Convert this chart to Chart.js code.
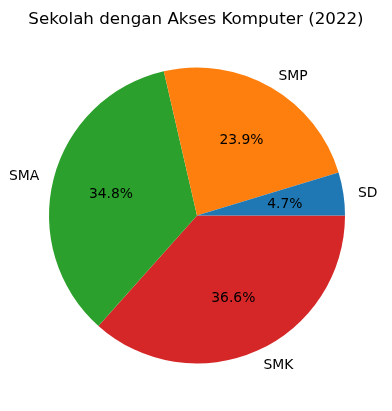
<!DOCTYPE html>
<html>
<head>
<meta charset="utf-8">
<script src="https://cdn.jsdelivr.net/npm/chart.js@4"></script>
<style>
  html, body { margin: 0; padding: 0; background: #fff; }
  #wrap { width: 392px; height: 411px; }
</style>
</head>
<body>
<div id="wrap"><canvas id="pieChart" width="392" height="411"></canvas></div>
<script>
// data
const labels = ['SD', 'SMP', 'SMA', 'SMK'];
const values = [4.7, 23.9, 34.8, 36.6];
const colors = ['#1f77b4', '#ff7f0e', '#2ca02c', '#d62728'];
const title = 'Sekolah dengan Akses Komputer (2022)';

// matplotlib goes counterclockwise from 3 o'clock, chart.js goes clockwise,
// so feed the slices in reverse and start at 90 deg
const revLabels = labels.slice().reverse();
const revValues = values.slice().reverse();
const revColors = colors.slice().reverse();

const font = 'DejaVu Sans, sans-serif';
const labelSize = 13.9;
const capHalf = labelSize * 0.729 / 2; // DejaVu cap height / 2

const pieLabels = {
  id: 'pieLabels',
  afterDraw(chart) {
    const ctx = chart.ctx;
    const meta = chart.getDatasetMeta(0);
    const total = revValues.reduce((a, b) => a + b, 0);
    ctx.save();
    ctx.fillStyle = '#000';
    ctx.textBaseline = 'alphabetic';

    // title
    ctx.font = '16.7px ' + font;
    ctx.textAlign = 'center';
    ctx.fillText(title, chart.width / 2, 24);

    ctx.font = labelSize + 'px ' + font;
    meta.data.forEach((arc, i) => {
      const mid = (arc.startAngle + arc.endAngle) / 2;
      const r = arc.outerRadius;
      const cx = Math.cos(mid), cy = Math.sin(mid);

      // category label outside
      const lx = arc.x + cx * r * 1.1;
      const ly = arc.y + cy * r * 1.1;
      ctx.textAlign = cx >= 0 ? 'left' : 'right';
      ctx.fillText(revLabels[i], lx, ly + capHalf);

      // percentage inside
      const pct = (revValues[i] / total * 100).toFixed(1) + '%';
      ctx.textAlign = 'center';
      ctx.fillText(pct, arc.x + cx * r * 0.6, arc.y + cy * r * 0.6 + capHalf);
    });
    ctx.restore();
  }
};

new Chart(document.getElementById('pieChart'), {
  type: 'pie',
  data: {
    labels: revLabels,
    datasets: [{
      data: revValues,
      backgroundColor: revColors,
      borderWidth: 0,
      hoverOffset: 0,
      offset: 0
    }]
  },
  options: {
    responsive: false,
    animation: false,
    events: [],
    rotation: 90,
    layout: { padding: { left: 49, right: 47, top: 67, bottom: 47 } },
    plugins: {
      legend: { display: false },
      title: { display: false },
      tooltip: { enabled: false }
    }
  },
  plugins: [pieLabels]
});
</script>
</body>
</html>
